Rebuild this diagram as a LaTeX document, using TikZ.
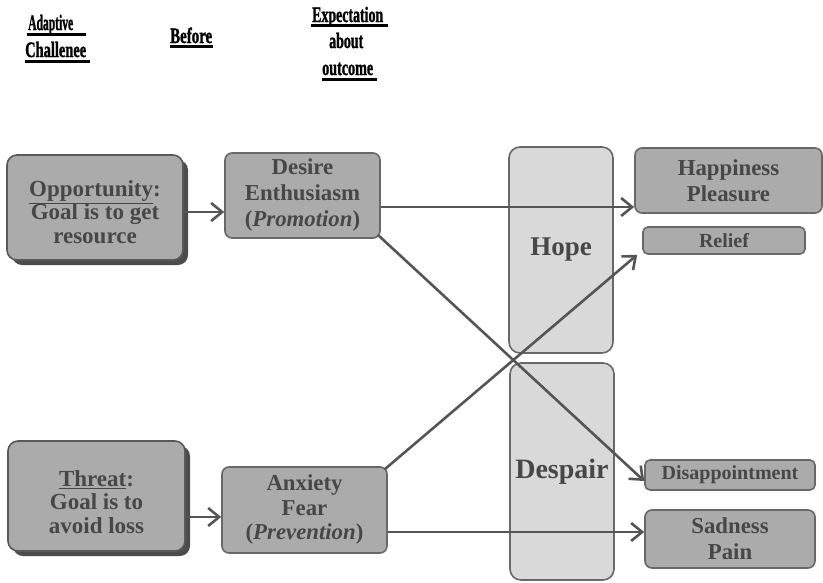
\documentclass[tikz,border=0pt]{standalone}
\usepackage{fontspec}
\setmainfont{Liberation Serif}
\newfontface\hdrface{Liberation Serif Bold}[FakeBold=1.6]
\usetikzlibrary{arrows.meta,shadows}
\definecolor{boxfill}{HTML}{ABABAB}
\definecolor{lightfill}{HTML}{D9D9D9}
\definecolor{edgecol}{HTML}{686868}
\definecolor{ink}{HTML}{474747}
\definecolor{wire}{HTML}{555555}
\begin{document}
\begin{tikzpicture}[x=1pt,y=-1pt,
  emo/.style={draw=edgecol, line width=1.6pt, fill=boxfill, rounded corners=7pt, text=ink,
    font=\bfseries\fontsize{22.8}{26}\selectfont, align=center, inner sep=0pt},
  goal/.style={emo, draw=black!65, rounded corners=10pt,
    drop shadow={shadow xshift=5pt, shadow yshift=-5pt, fill=black!70, opacity=1}},
  goaltext/.style={text=ink, font=\bfseries\fontsize{23}{23.5}\selectfont, align=center, inner sep=0pt},
  phase/.style={draw=edgecol, line width=1.6pt, fill=lightfill, rounded corners=11pt, text=ink,
    font=\bfseries\fontsize{27}{30}\selectfont, inner sep=0pt},
  wirearrow/.style={draw=wire, line width=2.6pt, -{Straight Barb[length=11pt,width=18pt]}},
  hdr/.style={anchor=base west, inner sep=0pt, font=\hdrface\fontsize{22}{22}\selectfont},
  uline/.style={line width=2.3pt}
]
\useasboundingbox (0,0) rectangle (823,582);

% headers
\node[hdr] (hA) at (28,30) {\resizebox{45pt}{\height}{Adaptive}};
\node[hdr] (hC) at (25,57) {\resizebox{61pt}{\height}{Challenee}};
\node[hdr] (hB) at (170,43) {\resizebox{42pt}{\height}{Before}};
\node[hdr] (hE) at (312,22) {\resizebox{71pt}{\height}{Expectation}};
\node[hdr] (ha) at (329,48) {\resizebox{34pt}{\height}{about}};
\node[hdr] (ho) at (322,75) {\resizebox{51pt}{\height}{outcome}};
\draw[uline] (hA.base west) ++(-1,4.5) -- ++(59,0);
\draw[uline] (hC.base west) ++(0,4.5) -- ++(65,0);
\draw[uline] (hB.base west) ++(0,3.5) -- ++(43,0);
\draw[uline] (hE.base west) ++(-1,3.5) -- ++(77,0);
\draw[uline] (ho.base west) ++(0,4.5) -- ++(55,0);

% phase columns
\node[phase, minimum width=104pt, minimum height=206pt] (hope) at (561,250) {Hope};
\node[phase, minimum width=104pt, minimum height=217pt, font=\bfseries\fontsize{28}{30}\selectfont] (desp) at (562,471.5) {Despair};

% goal boxes
\node[goal, minimum width=176pt, minimum height=105pt] (opp) at (95,207.5) {};
\node[goaltext] (oppT) at (95,212) {\underline{Opportunity}:\\Goal is to get\\resource};
\node[goal, minimum width=177pt, minimum height=110pt] (thr) at (96.5,496) {};
\node[goaltext] (thrT) at (96.5,502) {\underline{Threat}:\\Goal is to\\avoid loss};

% before boxes
\node[emo, minimum width=155pt, minimum height=85pt] (des) at (302.5,195.5) {Desire\\Enthusiasm\\(\textit{Promotion})};
\node[emo, minimum width=165pt, minimum height=86pt, font=\bfseries\fontsize{22.8}{24.5}\selectfont] (anx) at (304.5,510) {Anxiety\\Fear\\(\textit{Prevention})};

% outcome boxes
\node[emo, minimum width=187pt, minimum height=65pt] (hap) at (728.5,180.5) {Happiness\\Pleasure};
\node[emo, minimum width=162pt, minimum height=27pt, rounded corners=5pt, font=\bfseries\fontsize{20}{22}\selectfont] (rel) at (724,240.5) {Relief};
\node[emo, minimum width=170pt, minimum height=30pt, rounded corners=5pt, font=\bfseries\fontsize{20}{22}\selectfont] (dis) at (730,475) {Disappointment};
\node[emo, minimum width=170pt, minimum height=58pt] (sad) at (730,539) {Sadness\\Pain};

% connectors
\draw[wirearrow] (opp.east |- 0,212) -- (des.west |- 0,212);
\draw[wirearrow] (thr.east |- 0,517) -- (anx.west |- 0,517);
\draw[wirearrow] (des.east |- 0,207) -- (hap.west |- 0,207);
\draw[wirearrow] ([shift={(-3,-4)}]des.south east) -- (dis.west |- 0,481);
\draw[wirearrow] ([shift={(-3,3)}]anx.north east) -- ([xshift=-5pt]rel.south west);
\draw[wirearrow] (anx.east |- 0,532) -- (sad.west |- 0,532);
\end{tikzpicture}
\end{document}
